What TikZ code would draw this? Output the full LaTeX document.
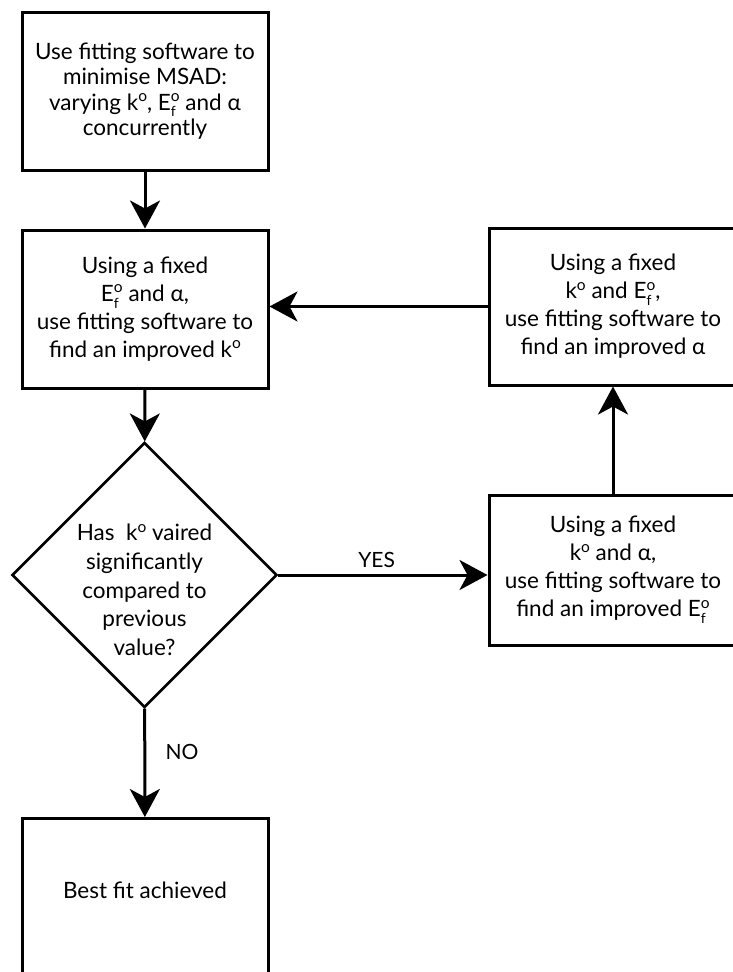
\documentclass[tikz,border=0pt]{standalone}
\usepackage{fontspec}
\setmainfont{Lato}
\usetikzlibrary{shapes.geometric,arrows.meta}

\newcommand{\supo}{\raisebox{0.38em}{\fontsize{15.5}{15}\selectfont o}}
\newcommand{\subf}{\raisebox{-0.3em}{\fontsize{14}{14}\selectfont f}}
\newcommand{\ko}{k\supo}
\newcommand{\Efo}{E\rlap{\subf}\supo}

\tikzset{
  stepbox/.style={draw, line width=3pt, minimum width=246pt, minimum height=158pt,
    inner sep=0pt, align=center, font=\fontsize{22.5}{28}\selectfont},
  decision/.style={draw, diamond, aspect=1, line width=2.6pt, minimum width=265pt,
    minimum height=265pt, inner sep=0pt},
  flow/.style={line width=3pt, -{Stealth[length=28pt, width=30pt, inset=8pt]}},
  tag/.style={font=\fontsize{21}{24}\selectfont}
}

\begin{document}
\begin{tikzpicture}[x=1pt,y=-1pt]
    \useasboundingbox (0,0) rectangle (733,972);
    \node[stepbox, font=\fontsize{22.5}{25.5}\selectfont] (fit) at (145,91) {Use fitting software to\\minimise MSAD:\\varying \ko, \Efo{} and α\\concurrently};
    \node[stepbox] (kfit) at (145,309) {Using a fixed\\\Efo{} and α,\\use fitting software to\\find an improved \ko};
    \node[stepbox, minimum width=248pt, minimum height=157pt] (afit) at (613,306.5) {Using a fixed\\\ko{} and \Efo,\\use fitting software to\\find an improved α};
    \node[stepbox, minimum width=248pt, minimum height=150pt] (efit) at (613,570) {Using a fixed\\\ko{} and α,\\use fitting software to\\find an improved \Efo};
    \node[decision] (check) at (144.5,575) {};
    \node[align=center, font=\fontsize{22.5}{28.75}\selectfont] (ask) at (144.5,590) {Has~ \ko{} vaired\\significantly\\compared to\\previous\\value?};
    \node[stepbox, minimum height=180pt, anchor=north,
      label={[yshift=18pt, font=\fontsize{22.5}{28}\selectfont]center:Best fit achieved}] (done) at (145,817) {};
    \draw[flow] (fit) -- (kfit);
    \draw[flow] (kfit) -- (check);
    \draw[flow] (check) -- node[tag, pos=0.4, right=16pt] {NO} (done);
    \draw[flow] (check.east) -- node[tag, pos=0.47, above=3pt] {YES} (check.east -| efit.west);
    \draw[flow] (efit) -- (afit);
    \draw[flow] (afit.west) -- (afit.west -| kfit.east);
\end{tikzpicture}
\end{document}
